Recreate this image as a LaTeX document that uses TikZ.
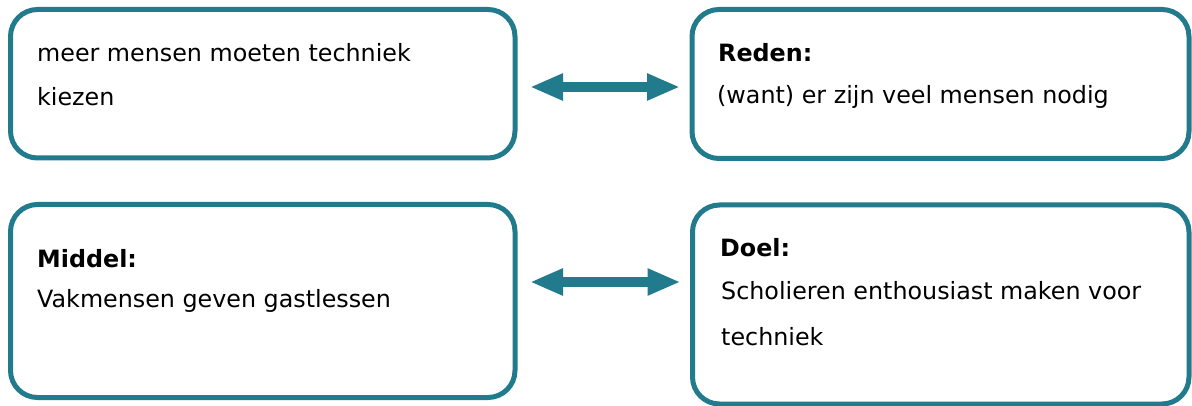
\documentclass[tikz,border=0pt]{standalone}
\usepackage{fontspec}
\setmainfont{DejaVu Sans}
\usetikzlibrary{arrows.meta}
\definecolor{teal1}{RGB}{34,123,141}
\tikzset{
  box/.style={draw=teal1, line width=5pt, rounded corners=27pt, inner sep=0pt, fill=white},
  txt/.style={anchor=base west, inner sep=0pt, font=\fontsize{23.8}{28}\selectfont, text=black},
  dblarrow/.style={draw=teal1, line width=10.5pt, {Triangle[length=33pt,width=25pt]}-{Triangle[length=33pt,width=25pt]}}
}
\begin{document}
\begin{tikzpicture}[x=1pt,y=-1pt]
\useasboundingbox (0,0) rectangle (1192,406);
\node[box, minimum width=504.5pt, minimum height=148.5pt] (tl) at (262.75,83.75) {};
\node[box, minimum width=497pt, minimum height=149pt] (tr) at (940.5,84) {};
\node[box, minimum width=504.5pt, minimum height=193pt] (bl) at (262.75,301) {};
\node[box, minimum width=496.5pt, minimum height=199pt] (br) at (940.75,304.5) {};
\node[txt] (t1) at (37,62) {meer mensen moeten techniek};
\node[txt] (t2) at (37,106) {kiezen};
\node[txt] (t3) at (718,62) {\bfseries Reden:};
\node[txt] (t4) at (717,104) {(want) er zijn veel mensen nodig};
\node[txt] (t5) at (37,268) {\bfseries Middel:};
\node[txt] (t6) at (37,307) {Vakmensen geven gastlessen};
\node[txt] (t7) at (720,257) {\bfseries Doel:};
\node[txt] (t8) at (721,300) {Scholieren enthousiast maken voor};
\node[txt] (t9) at (721,345) {techniek};
\draw[dblarrow, shorten <=12.5pt, shorten >=9.5pt] (tl.east |- 0,87) -- (tr.west |- 0,87);
\draw[dblarrow, shorten <=12.5pt, shorten >=9.5pt] (bl.east |- 0,282) -- (br.west |- 0,282);
\end{tikzpicture}
\end{document}
